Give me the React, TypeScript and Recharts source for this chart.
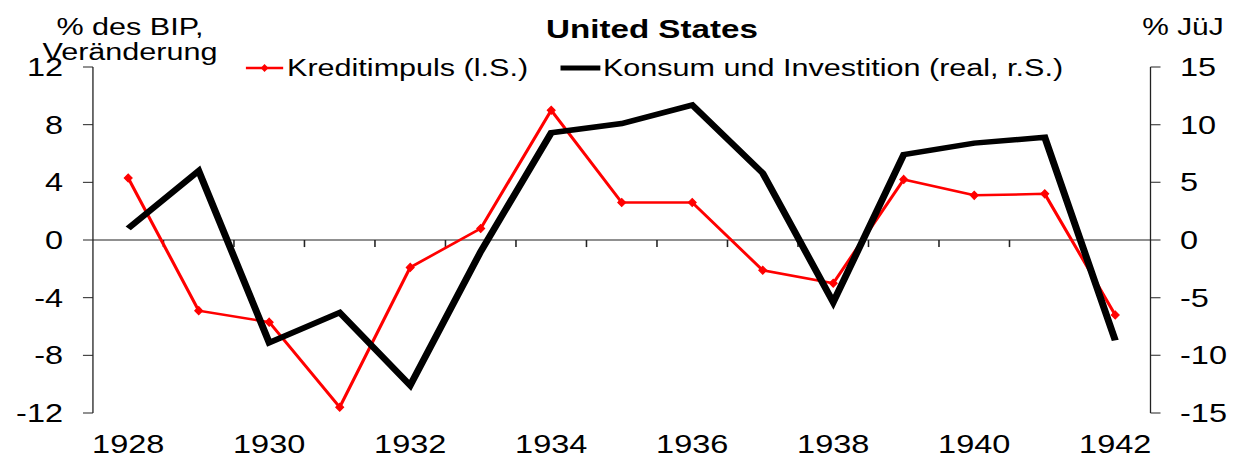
import React from 'react'
import { ComposedChart, Line, XAxis, YAxis, ReferenceLine } from 'recharts'

const years = ['1928', '1929', '1930', '1931', '1932', '1933', '1934', '1935', '1936', '1937', '1938', '1939', '1940', '1941', '1942']
const kreditimpuls = [4.3, -4.9, -5.7, -11.6, -1.9, 0.8, 9.0, 2.6, 2.6, -2.1, -3.0, 4.2, 3.1, 3.2, -5.2]
const konsumInvest = [1.0, 6.0, -8.9, -6.3, -12.6, -1.0, 9.3, 10.1, 11.7, 5.8, -5.4, 7.4, 8.4, 8.9, -8.7]
const leftTicks = [-12, -8, -4, 0, 4, 8, 12]
const rightTicks = [-15, -10, -5, 0, 5, 10, 15]

const data = years.map((year, i) => ({ year, kredit: kreditimpuls[i], konsum: konsumInvest[i] }))

// the source image is stretched sideways, so the whole chart is drawn narrower and scaled
const STRETCH = 1.3
const W = 951
const H = 457
const FONT = '"Liberation Sans", Arial, sans-serif'
const RED = '#ff0000'

const Diamond = (props: any) => {
  const { cx, cy } = props
  if (cx == null || cy == null) return null
  return <path d={`M${cx},${cy - 4}L${cx + 3},${cy}L${cx},${cy + 4}L${cx - 3},${cy}Z`} fill={RED} stroke={RED} strokeWidth={1} />
}

export default function App() {
  const tickStyle = { fill: '#000', fontSize: 25, fontFamily: FONT }
  return (
    <div style={{ position: 'absolute', left: 0, top: 0, width: W, height: H, transform: `scaleX(${STRETCH})`, transformOrigin: '0 0', fontFamily: FONT, color: '#000', background: '#fff' }}>
      <div style={{ position: 'absolute', left: 0, top: 14.5, width: 200, textAlign: 'center', fontSize: 23.5, lineHeight: '25px' }}>
        % des BIP,<br />Veränderung
      </div>
      <div style={{ position: 'absolute', left: 351.5, top: 16, width: 300, textAlign: 'center', fontSize: 25.5, fontWeight: 'bold', lineHeight: '26px' }}>
        United States
      </div>
      <div style={{ position: 'absolute', left: 860, top: 14.5, width: 100, textAlign: 'center', fontSize: 23, lineHeight: '25px' }}>
        % JüJ
      </div>

      <svg style={{ position: 'absolute', left: 188.5, top: 63 }} width={29} height={10}>
        <line x1={0} y1={5} x2={29} y2={5} stroke={RED} strokeWidth={2.5} />
        <path d="M14.5,1L17.5,5L14.5,9L11.5,5Z" fill={RED} />
      </svg>
      <div style={{ position: 'absolute', left: 220.8, top: 56, fontSize: 23.5, lineHeight: '24px', whiteSpace: 'nowrap' }}>
        Kreditimpuls (l.S.)
      </div>
      <svg style={{ position: 'absolute', left: 430.8, top: 63 }} width={31} height={10}>
        <line x1={0} y1={5} x2={31} y2={5} stroke="#000" strokeWidth={5} />
      </svg>
      <div style={{ position: 'absolute', left: 463.8, top: 56, fontSize: 23.5, lineHeight: '24px', whiteSpace: 'nowrap' }}>
        Konsum und Investition (real, r.S.)
      </div>

      <ComposedChart width={W} height={H} data={data} margin={{ top: 67, right: 0, bottom: 0, left: 0 }}>
        <XAxis
          dataKey="year"
          type="category"
          scale="band"
          interval={1}
          axisLine={false}
          tickLine={false}
          tickSize={0}
          tickMargin={22}
          height={44}
          tick={tickStyle}
        />
        <YAxis
          yAxisId="left"
          domain={[-12, 12]}
          ticks={leftTicks}
          width={71.5}
          tickSize={7.7}
          tickMargin={15.3}
          axisLine={{ stroke: '#222', strokeWidth: 1 }}
          tickLine={{ stroke: '#222', strokeWidth: 1 }}
          tick={tickStyle}
        />
        <YAxis
          yAxisId="right"
          orientation="right"
          domain={[-15, 15]}
          ticks={rightTicks}
          width={66}
          tickSize={7.7}
          tickMargin={15}
          axisLine={{ stroke: '#222', strokeWidth: 1 }}
          tickLine={{ stroke: '#222', strokeWidth: 1 }}
          tick={{ ...tickStyle, textAnchor: 'start' }}
        />
        <ReferenceLine yAxisId="left" y={0} stroke="#222" strokeWidth={1.2} />
        {years.slice(1).map((y) => (
          <ReferenceLine
            key={y}
            yAxisId="left"
            position="start"
            ifOverflow="visible"
            segment={[{ x: y, y: 0 }, { x: y, y: -0.49 }]}
            stroke="#222"
            strokeWidth={1.2}
          />
        ))}
        <Line
          yAxisId="left"
          dataKey="kredit"
          stroke={RED}
          strokeWidth={2.5}
          dot={<Diamond />}
          activeDot={false}
          isAnimationActive={false}
        />
        <Line
          yAxisId="right"
          dataKey="konsum"
          stroke="#000"
          strokeWidth={5.5}
          strokeLinejoin="miter"
          dot={false}
          activeDot={false}
          isAnimationActive={false}
        />
      </ComposedChart>
    </div>
  )
}
